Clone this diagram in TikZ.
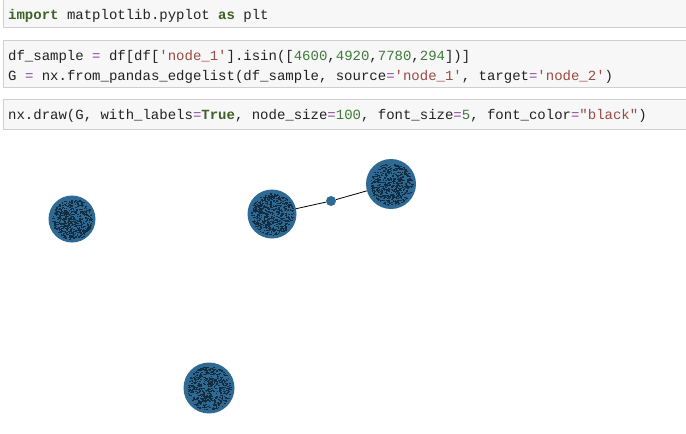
\documentclass[tikz,border=0pt]{standalone}
\usepackage{fontspec}
\newfontfamily\codefont{Liberation Mono}
\definecolor{cellbg}{HTML}{F7F7F7}
\definecolor{cellborder}{HTML}{CFCFCF}
\definecolor{codetext}{HTML}{222222}
\definecolor{kw}{HTML}{3E6228}
\definecolor{num}{HTML}{3F7A3A}
\definecolor{op}{HTML}{8A4A9E}
\definecolor{str}{HTML}{9A4A44}
\definecolor{nodeblue}{HTML}{2E6A94}
\definecolor{nodedark}{HTML}{132C40}
\newcommand{\kw}[1]{\textcolor{kw}{\bfseries #1}}
\newcommand{\nm}[1]{\textcolor{num}{#1}}
\newcommand{\op}[1]{\textcolor{op}{#1}}
\newcommand{\st}[1]{\textcolor{str}{#1}}
\newcommand{\speckle}[2]{%
  \foreach \i in {1,...,520}{%
    \pgfmathsetmacro\ang{360*rnd}%
    \pgfmathsetmacro\rad{#2*sqrt(rnd)}%
    \fill[nodedark] (#1) ++(\ang:\rad) rectangle ++(1.6,1.1);
  }}
\begin{document}
\begin{tikzpicture}[x=1pt,y=-1pt,
  cell/.style={fill=cellbg, draw=cellborder, line width=0.8pt},
  code/.style={anchor=base west, inner sep=0pt, text=codetext,
    font=\codefont\fontsize{14}{16}\selectfont},
  gnode/.style={circle, fill=nodeblue, inner sep=0pt, minimum size=#1},
  edge/.style={draw=black, line width=0.8pt}]
\useasboundingbox (0,0) rectangle (686,434);
\fill[white] (0,0) rectangle (686,434);
\pgfmathsetseed{7}
% cells
\path[cell] (3,-5) rectangle (695,27);
\path[cell] (3,40) rectangle (695,87);
\path[cell] (3,99) rectangle (695,129);
\node[code] (t1) at (8,19) {\kw{import} matplotlib.pyplot \kw{as} plt};
\node[code] (t2) at (8,60) {df\_sample \op{=} df[df[\st{'node\_1'}].isin([\nm{4600},\nm{4920},\nm{7780},\nm{294}])]};
\node[code] (t3) at (8,80) {G \op{=} nx.from\_pandas\_edgelist(df\_sample, source\op{=}\st{'node\_1'}, target\op{=}\st{'node\_2'})};
\node[code] (t4) at (8,119) {nx.draw(G, with\_labels\op{=}\kw{True}, node\_size\op{=}\nm{100}, font\_size\op{=}\nm{5}, font\_color\op{=}\st{"black"})};
% graph
\node[gnode=47pt] (a) at (72,219) {};
\node[gnode=49pt] (b) at (272,214) {};
\node[gnode=10pt] (s) at (331,201) {};
\node[gnode=50pt] (c) at (391,184) {};
\node[gnode=51pt] (d) at (209,388) {};
\path[edge] (b) -- (s);
\path[edge] (s) -- (c);
\speckle{a}{20}
\speckle{b}{21}
\speckle{c}{21}
\speckle{d}{22}
\end{tikzpicture}
\end{document}
